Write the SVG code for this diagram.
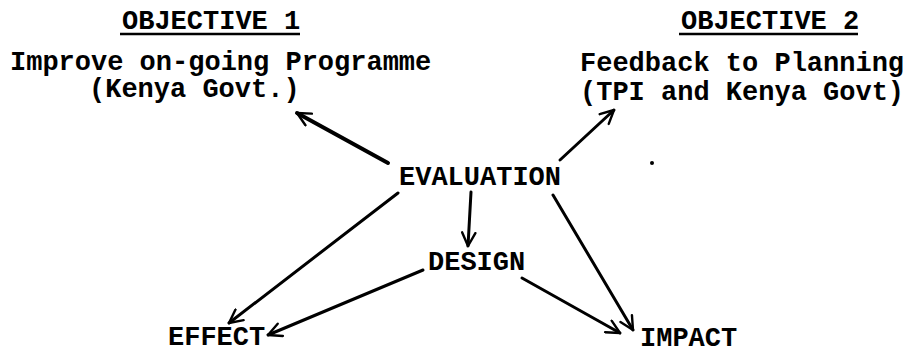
<svg xmlns="http://www.w3.org/2000/svg" width="906" height="354" viewBox="0 0 906 354">
<defs>
<style>
.t{font-family:"Liberation Mono","Courier New",monospace;font-weight:bold;font-size:27px;fill:#000}
.c{stroke:#000;stroke-width:3;fill:none;stroke-linecap:round}
.u{stroke:#000;stroke-width:2.5}
</style>
<marker id="ah" viewBox="0 0 12 12" refX="11" refY="6" markerWidth="16" markerHeight="16" markerUnits="userSpaceOnUse" orient="auto">
<path d="M1,1 L11,6 L1,11" fill="none" stroke="#000" stroke-width="1.8" stroke-linecap="round" stroke-linejoin="round"/>
</marker>
</defs>
<rect width="906" height="354" fill="#fff"/>
<g id="objective1">
<text class="t" x="122" y="29">OBJECTIVE 1</text>
<line class="u" x1="120" y1="34" x2="300" y2="34"/>
<text class="t" x="10" y="70">Improve on-going Programme</text>
<text class="t" x="89" y="97">(Kenya Govt.)</text>
</g>
<g id="objective2">
<text class="t" x="681" y="29">OBJECTIVE 2</text>
<line class="u" x1="679" y1="34" x2="858" y2="34"/>
<text class="t" x="580" y="71">Feedback to Planning</text>
<text class="t" x="580" y="100">(TPI and Kenya Govt)</text>
</g>
<g id="evaluation"><text class="t" x="399" y="185">EVALUATION</text></g>
<g id="design"><text class="t" x="428" y="270">DESIGN</text></g>
<g id="effect"><text class="t" x="168" y="345">EFFECT</text></g>
<g id="impact"><text class="t" x="640" y="346">IMPACT</text></g>
<circle cx="652" cy="163" r="2" fill="#000"/>
<g id="connectors">
<line class="c" style="stroke-width:4" x1="388" y1="163" x2="297" y2="113" marker-end="url(#ah)"/>
<line class="c" x1="560" y1="160" x2="614" y2="110" marker-end="url(#ah)"/>
<line class="c" x1="471" y1="192" x2="468" y2="246" marker-end="url(#ah)"/>
<line class="c" x1="398" y1="193" x2="229" y2="323" marker-end="url(#ah)"/>
<line class="c" x1="423" y1="270" x2="268" y2="335" marker-end="url(#ah)"/>
<line class="c" x1="553" y1="195" x2="633" y2="330" marker-end="url(#ah)"/>
<line class="c" x1="522" y1="278" x2="620" y2="333" marker-end="url(#ah)"/>
</g>
</svg>
